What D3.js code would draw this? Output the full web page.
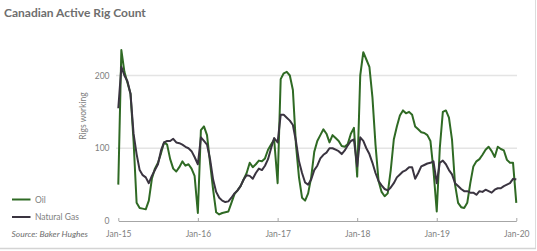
<!DOCTYPE html>
<html>
<head>
<meta charset="utf-8">
<script src="https://cdn.jsdelivr.net/npm/d3@7"></script>
<style>
    body { margin: 0; background: #fff; }
    svg { display: block; font-family: Lato, "Open Sans", sans-serif; }
</style>
</head>
<body>
<div id="chart"></div>
<script>
// biweekly readings, Jan 2015 .. Jan 2020 (26 per year + final point)
var years = [2015, 2016, 2017, 2018, 2019, 2020];
var tick_labels = ["Jan-15", "Jan-16", "Jan-17", "Jan-18", "Jan-19", "Jan-20"];
var y_ticks = [0, 100, 200];

var oil = [
    50, 235, 205, 190, 175, 110, 25, 18, 17, 16, 28, 58, 72, 80, 93, 108, 105, 85, 72, 68, 74, 82, 76, 78, 72, 62,
    11, 125, 130, 118, 80, 43, 12, 9, 11, 12, 13, 25, 37, 42, 48, 57, 66, 80, 74, 78, 83, 82, 86, 98, 105, 112,
    52, 195, 203, 205, 200, 180, 105, 60, 32, 28, 38, 60, 95, 110, 118, 126, 120, 108, 118, 114, 110, 103, 102, 106, 120, 128,
    61, 200, 232, 222, 212, 170, 105, 55, 40, 34, 38, 70, 112, 130, 145, 152, 148, 150, 146, 130, 126, 122, 121, 118, 110, 70,
    13, 100, 150, 152, 142, 112, 50, 25, 19, 18, 25, 52, 75, 82, 85, 91, 98, 102, 96, 88, 102, 99, 97, 84, 80, 80,
    25
];

var gas = [
    155, 212, 200, 192, 175, 120, 92, 70, 63, 60, 52, 62, 70, 78, 97, 108, 110, 110, 113, 108, 107, 105, 102, 100, 96, 88,
    78, 115, 110, 105, 85, 57, 40, 32, 28, 26, 27, 32, 38, 42, 48, 57, 63, 62, 58, 66, 72, 70, 76, 85, 100, 114,
    108, 146, 146, 142, 138, 132, 110, 82, 66, 53, 50, 57, 70, 76, 86, 91, 94, 100, 100, 98, 96, 92, 97, 104, 110, 112,
    75, 115, 110, 100, 92, 80, 66, 55, 49, 44, 42, 46, 52, 60, 64, 68, 70, 74, 74, 58, 66, 75, 77, 79, 80, 82,
    52, 80, 83, 78, 70, 64, 52, 48, 44, 41, 41, 39, 39, 36, 41, 40, 43, 41, 39, 43, 45, 45, 48, 50, 52, 58,
    57
];

var series_names = ["Oil", "Natural Gas"];
var series_colors = ["#2f6a24", "#3a3440"];

function point_date(i) {
    let year = 2015 + Math.floor(i / 26);
    let k = i % 26;
    return new Date(year, 0, 1 + 14 * k);
}

var width = 537, height = 251;

var svg = d3.select("#chart")
    .append("svg")
    .attr("width", width)
    .attr("height", height);

let x = d3.scaleTime()
    .domain([new Date(2015, 0, 1), new Date(2020, 0, 1)])
    .range([118.3, 516.3]);

let y = d3.scaleLinear()
    .domain([0, 200])
    .range([221, 75.5]);

// frame edges
svg.append("line")
    .attr("x1", 535.5).attr("x2", 535.5)
    .attr("y1", 0).attr("y2", 249)
    .attr("stroke", "#dcdcdc");
svg.append("line")
    .attr("x1", 0).attr("x2", 536)
    .attr("y1", 248.5).attr("y2", 248.5)
    .attr("stroke", "#d4d4d4").attr("stroke-width", 1.5);

// title
svg.append("text")
    .attr("x", 4)
    .attr("y", 17)
    .attr("fill", "#6e6e6e")
    .attr("font-size", 12)
    .attr("font-weight", "bold")
    .text("Canadian Active Rig Count");

// gridlines
svg.selectAll(".grid")
    .data(y_ticks.filter(d => d > 0))
    .enter().append("line")
    .attr("x1", 116).attr("x2", 517)
    .attr("y1", d => y(d)).attr("y2", d => y(d))
    .attr("stroke", "#e4e4e4")
    .attr("stroke-width", 1.5);

// y axis labels
let y_axis = svg.append("g")
    .attr("transform", "translate(118,0)")
    .call(d3.axisLeft(y).tickValues(y_ticks).tickSize(0).tickPadding(8.5));
y_axis.select(".domain").remove();
y_axis.selectAll("text")
    .attr("fill", "#808080")
    .attr("font-size", 8.5)
    .attr("font-family", "Lato, sans-serif");

// x axis
let x_axis = svg.append("g")
    .attr("transform", "translate(0,221)")
    .call(d3.axisBottom(x)
        .tickValues(years.map(yr => new Date(yr, 0, 1)))
        .tickFormat((d, i) => tick_labels[i])
        .tickSizeInner(-3)
        .tickSizeOuter(0)
        .tickPadding(10));
x_axis.select(".domain").attr("stroke", "#a6a6a6");
x_axis.selectAll(".tick line").attr("stroke", "#a6a6a6");
x_axis.selectAll("text")
    .attr("fill", "#808080")
    .attr("font-size", 8.5)
    .attr("font-family", "Lato, sans-serif");

// y axis title
svg.append("text")
    .attr("transform", "translate(86,116) rotate(-90)")
    .attr("text-anchor", "middle")
    .attr("fill", "#808080")
    .attr("font-size", 8.5)
    .text("Rigs working");

// lines
let line = d3.line()
    .x((d, i) => x(point_date(i)))
    .y(d => y(d));

[oil, gas].forEach(function(values, s) {
    svg.append("path")
        .datum(values)
        .attr("fill", "none")
        .attr("stroke", series_colors[s])
        .attr("stroke-width", 2)
        .attr("stroke-linejoin", "round")
        .attr("d", line);
});

// legend
let legend_y = [199.5, 217];
series_names.forEach(function(name, s) {
    svg.append("line")
        .attr("x1", 12).attr("x2", 30.5)
        .attr("y1", legend_y[s]).attr("y2", legend_y[s])
        .attr("stroke", series_colors[s])
        .attr("stroke-width", 2);
    svg.append("text")
        .attr("x", 35)
        .attr("y", legend_y[s] + 3)
        .attr("fill", "#808080")
        .attr("font-size", 8.5)
        .text(name);
});

svg.append("text")
    .attr("x", 11.5)
    .attr("y", 237)
    .attr("fill", "#6e6e6e")
    .attr("font-size", 8.5)
    .attr("font-style", "italic")
    .text("Source: Baker Hughes");
</script>
</body>
</html>
